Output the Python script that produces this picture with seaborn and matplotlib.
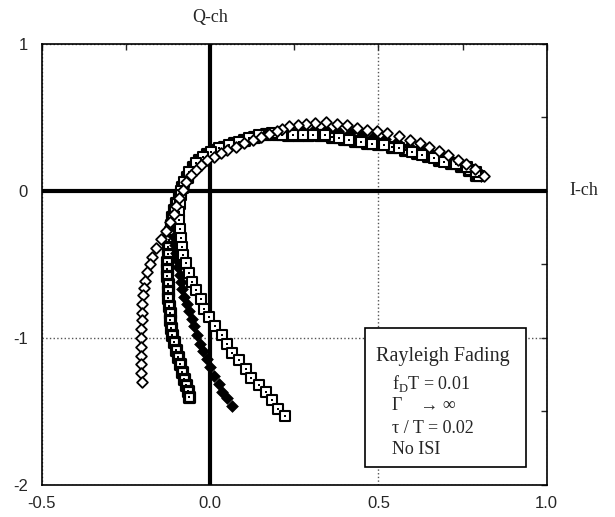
import matplotlib
matplotlib.use("Agg")
import matplotlib.pyplot as plt
import matplotlib.patches as patches
from matplotlib.ticker import MultipleLocator
import seaborn as sns

# open diamonds (outermost left leg)
dia_open_x = [0.813, 0.787, 0.76, 0.736, 0.706, 0.68, 0.65, 0.623, 0.593, 0.561, 0.526, 0.497, 0.467,
              0.437, 0.408, 0.378, 0.345, 0.313, 0.285, 0.26, 0.235, 0.215, 0.20, 0.175, 0.15, 0.126,
              0.101, 0.076, 0.051, 0.032, 0.012, -0.008, -0.028, -0.042, -0.057, -0.072, -0.082, -0.092,
              -0.10, -0.108, -0.118, -0.13, -0.146, -0.16, -0.172, -0.18, -0.187, -0.193, -0.197, -0.199,
              -0.201, -0.202, -0.203, -0.204, -0.206, -0.206, -0.206, -0.205, -0.204, -0.203]
dia_open_y = [0.10, 0.148, 0.184, 0.211, 0.246, 0.275, 0.30, 0.325, 0.348, 0.375, 0.394, 0.405, 0.417,
              0.428, 0.45, 0.457, 0.466, 0.462, 0.457, 0.45, 0.443, 0.42, 0.405, 0.389, 0.366, 0.348,
              0.325, 0.302, 0.28, 0.257, 0.234, 0.21, 0.177, 0.143, 0.109, 0.063, 0.007, -0.05,
              -0.10, -0.155, -0.21, -0.27, -0.33, -0.39, -0.45, -0.50, -0.55, -0.61, -0.66, -0.71,
              -0.77, -0.83, -0.88, -0.94, -1.0, -1.06, -1.12, -1.18, -1.24, -1.30]

# open squares with centre dot (rightmost leg)
sq_open_x = [0.80, 0.789, 0.764, 0.73, 0.695, 0.665, 0.63, 0.60, 0.56, 0.516, 0.482, 0.447, 0.413,
             0.383, 0.34, 0.305, 0.275, 0.245, 0.215, 0.185, 0.145, 0.116, 0.086, 0.056, 0.027, 0.002,
             -0.022, -0.042, -0.062, -0.077, -0.087, -0.088, -0.089, -0.091, -0.092, -0.09, -0.087,
             -0.085, -0.082, -0.072, -0.062, -0.053, -0.042, -0.028, -0.018, -0.003, 0.014, 0.035,
             0.05, 0.066, 0.086, 0.106, 0.121, 0.145, 0.165, 0.183, 0.203, 0.222]
sq_open_y = [0.105, 0.13, 0.162, 0.182, 0.20, 0.222, 0.245, 0.268, 0.29, 0.313, 0.32, 0.33, 0.348,
             0.36, 0.382, 0.382, 0.382, 0.382, 0.382, 0.393, 0.382, 0.36, 0.336, 0.314, 0.291, 0.268,
             0.234, 0.189, 0.13, 0.063, 0.0, -0.03, -0.09, -0.145, -0.198, -0.26, -0.32,
             -0.38, -0.437, -0.49, -0.56, -0.62, -0.675, -0.737, -0.80, -0.86, -0.92, -0.98,
             -1.04, -1.10, -1.15, -1.21, -1.27, -1.32, -1.37, -1.425, -1.48, -1.53]

# heavy squares (second leg from left)
sq_dark_x = [0.79, 0.77, 0.745, 0.715, 0.68, 0.648, 0.615, 0.58, 0.54, 0.50, 0.465, 0.43, 0.398,
             0.362, 0.325, 0.29, 0.26, 0.23, 0.20, 0.165, 0.13, 0.10, 0.07, 0.042, 0.015, -0.01,
             -0.032, -0.052, -0.07, -0.083, -0.092, -0.10, -0.106, -0.112, -0.116, -0.12, -0.122,
             -0.124, -0.126, -0.127, -0.127, -0.127, -0.126, -0.125, -0.124, -0.122, -0.12, -0.118,
             -0.115, -0.113, -0.108, -0.102, -0.096, -0.089, -0.083, -0.077, -0.072, -0.067, -0.062]
sq_dark_y = [0.11, 0.14, 0.17, 0.19, 0.21, 0.235, 0.257, 0.28, 0.30, 0.318, 0.325, 0.34, 0.355,
             0.37, 0.382, 0.382, 0.382, 0.382, 0.385, 0.39, 0.37, 0.348, 0.325, 0.302, 0.28, 0.25,
             0.212, 0.16, 0.097, 0.03, -0.03, -0.08, -0.13, -0.18, -0.23, -0.28, -0.334,
             -0.38, -0.43, -0.48, -0.53, -0.58, -0.63, -0.68, -0.73, -0.78, -0.83, -0.88,
             -0.93, -0.98, -1.03, -1.08, -1.13, -1.18, -1.23, -1.28, -1.32, -1.36, -1.405]

# filled diamonds
dia_fill_x = [0.805, 0.78, 0.752, 0.722, 0.69, 0.658, 0.625, 0.59, 0.555, 0.52, 0.485, 0.45, 0.415,
              0.38, 0.345, 0.31, 0.275, 0.24, 0.205, 0.17, 0.135, 0.10, 0.068, 0.038, 0.012, -0.012,
              -0.035, -0.055, -0.071, -0.082, -0.09, -0.096, -0.10, -0.103, -0.105, -0.106, -0.105,
              -0.102, -0.099, -0.095, -0.09, -0.087, -0.083, -0.078, -0.07, -0.063, -0.055, -0.048,
              -0.04, -0.03, -0.02, -0.01, 0.0, 0.012, 0.025, 0.036, 0.05, 0.064]
dia_fill_y = [0.105, 0.14, 0.172, 0.20, 0.228, 0.254, 0.28, 0.305, 0.33, 0.35, 0.365, 0.38, 0.395,
              0.405, 0.412, 0.415, 0.415, 0.41, 0.40, 0.385, 0.365, 0.342, 0.318, 0.29, 0.26, 0.225,
              0.182, 0.13, 0.075, 0.02, -0.035, -0.09, -0.145, -0.20, -0.255, -0.31, -0.365,
              -0.42, -0.47, -0.52, -0.57, -0.62, -0.67, -0.72, -0.77, -0.82, -0.87, -0.92,
              -0.98, -1.04, -1.09, -1.14, -1.20, -1.26, -1.31, -1.37, -1.41, -1.465]

sns.set_style("white")
plt.rcParams["font.family"] = ["Liberation Sans", "DejaVu Sans"]
plt.rcParams["axes.unicode_minus"] = False
plt.rcParams["mathtext.fontset"] = "custom"
plt.rcParams["mathtext.rm"] = "Liberation Serif"

fig = plt.figure(figsize=(6.15, 5.17), dpi=100)
ax = fig.add_axes([0.068, 0.062, 0.821, 0.853])

# axes through the origin
ax.axhline(0, color="black", lw=3, zorder=1)
ax.axvline(0, color="black", lw=3, zorder=1)

sns.scatterplot(x=sq_dark_x, y=sq_dark_y, marker="s", s=42, facecolor="white",
                edgecolor="black", linewidth=2.3, ax=ax, zorder=3)
sns.scatterplot(x=sq_dark_x, y=sq_dark_y, marker="s", s=3, color="black", linewidth=0, ax=ax, zorder=3)
sns.scatterplot(x=dia_fill_x, y=dia_fill_y, marker="D", s=36, color="black",
                edgecolor="black", ax=ax, zorder=4)
sns.scatterplot(x=sq_open_x, y=sq_open_y, marker="s", s=50, facecolor="white",
                edgecolor="black", linewidth=1.5, ax=ax, zorder=5)
sns.scatterplot(x=sq_open_x, y=sq_open_y, marker="s", s=3, color="black", linewidth=0, ax=ax, zorder=5)
sns.scatterplot(x=dia_open_x, y=dia_open_y, marker="D", s=30, facecolor="white",
                edgecolor="black", linewidth=1.3, ax=ax, zorder=6)

ax.set_xlim(-0.5, 1.0)
ax.set_ylim(-2, 1)
ax.xaxis.set_major_locator(MultipleLocator(0.5))
ax.xaxis.set_minor_locator(MultipleLocator(0.25))
ax.yaxis.set_major_locator(MultipleLocator(1))
ax.yaxis.set_minor_locator(MultipleLocator(0.5))
ax.set_xticklabels([f"{v:.1f}" for v in ax.get_xticks()])
ax.tick_params(which="both", direction="in", top=True, right=True, labelsize=12, length=4, width=1)
ax.tick_params(axis="x", pad=8)
ax.tick_params(axis="y", pad=10)
ax.grid(True, which="major", linestyle=":", color="#555555", lw=1)
for sp in ax.spines.values():
    sp.set_linewidth(1.2)
    sp.set_color("black")

serif = ["Liberation Serif", "DejaVu Serif"]
ax.text(0.0, 1.18, "Q-ch", ha="center", va="center", fontsize=13, family=serif, clip_on=False)
ax.text(1.11, 0.0, "I-ch", ha="center", va="center", fontsize=13, family=serif, clip_on=False)

box = patches.Rectangle((0.46, -1.876), 0.478, 0.941, facecolor="white", edgecolor="black",
                        lw=1.2, zorder=7)
ax.add_patch(box)
ax.text(0.69, -1.126, "Rayleigh Fading", ha="center", va="center", fontsize=14.5, family=serif, zorder=8)
ax.text(0.54, -1.31, r"f$_{\mathrm{D}}$T = 0.01", ha="left", va="center", fontsize=13, family=serif, zorder=8)
ax.text(0.54, -1.46, "Γ    → ∞", ha="left", va="center", fontsize=13, family=serif, zorder=8)
ax.text(0.54, -1.617, "τ / T = 0.02", ha="left", va="center", fontsize=13, family=serif, zorder=8)
ax.text(0.54, -1.76, "No ISI", ha="left", va="center", fontsize=13, family=serif, zorder=8)

fig.savefig("out.png", dpi=100)
